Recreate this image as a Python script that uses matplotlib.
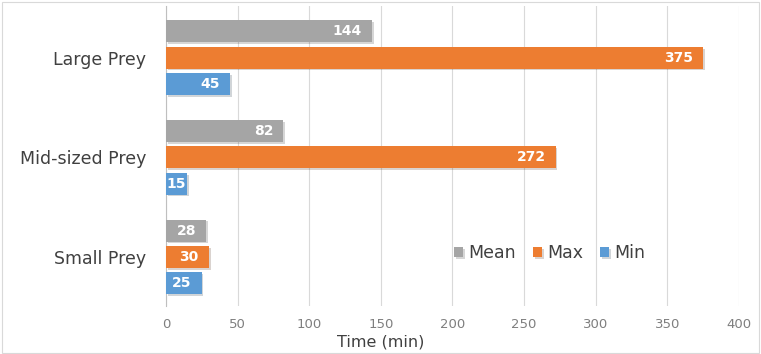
import numpy as np
import matplotlib.pyplot as plt
import matplotlib.patheffects as pe
from matplotlib.patches import Rectangle

# prey handling time (minutes)
categories = ["Small Prey", "Mid-sized Prey", "Large Prey"]
mean_vals = [28, 82, 144]
max_vals = [30, 272, 375]
min_vals = [25, 15, 45]
series = [("Mean", mean_vals, "#A5A5A5"),
          ("Max", max_vals, "#ED7D31"),
          ("Min", min_vals, "#5B9BD5")]

fig = plt.figure(figsize=(7.61, 3.54), dpi=100)
fig.patches.append(Rectangle((0.002, 0.004), 0.996, 0.99, transform=fig.transFigure,
                             fill=False, edgecolor="#D9D9D9", linewidth=0.8))
ax = fig.add_axes([0.218, 0.136, 0.753, 0.847])

y = np.arange(len(categories))
h = 0.22
offsets = [0.265, 0.0, -0.265]
shadow = [pe.SimplePatchShadow(offset=(1.2, -1.2), alpha=0.2), pe.Normal()]

for (name, vals, col), off in zip(series, offsets):
    bars = ax.barh(y + off, vals, height=h, color=col, label=name, zorder=3)
    for b in bars:
        b.set_path_effects(shadow)
    for yy, v in zip(y + off, vals):
        if v < 20:
            # too short for an inside-end label, centre it instead
            ax.text(v / 2, yy, str(v), ha="center", va="center", color="white",
                    fontsize=10, fontweight="bold", zorder=4)
        else:
            ax.text(v - 7, yy, str(v), ha="right", va="center", color="white",
                    fontsize=10, fontweight="bold", zorder=4)

ax.set_xlim(0, 400)
ax.set_ylim(-0.49, 2.52)
ax.set_xticks(np.arange(0, 401, 50))
ax.set_yticks(y)
ax.set_yticklabels(categories, fontsize=12.5, color="#404040")
ax.tick_params(axis="x", labelsize=9.5, colors="#7F7F7F", length=0, pad=9)
ax.tick_params(axis="y", length=0, pad=14)
ax.grid(axis="x", color="#D9D9D9", linewidth=0.8, zorder=0)
for s in ["top", "right", "bottom"]:
    ax.spines[s].set_visible(False)
ax.spines["left"].set_color("#BFBFBF")
ax.spines["left"].set_linewidth(0.8)
ax.set_xlabel("Time (min)", fontsize=11.5, color="#404040")
ax.xaxis.set_label_coords(0.375, -0.095)

ax.legend(loc="center", bbox_to_anchor=(0.67, 0.175), ncol=3, frameon=False,
          fontsize=12.5, handlelength=0.5, handleheight=0.5, handletextpad=0.3,
          columnspacing=1.0, labelcolor="#404040")

fig.savefig("out.png", dpi=100)
